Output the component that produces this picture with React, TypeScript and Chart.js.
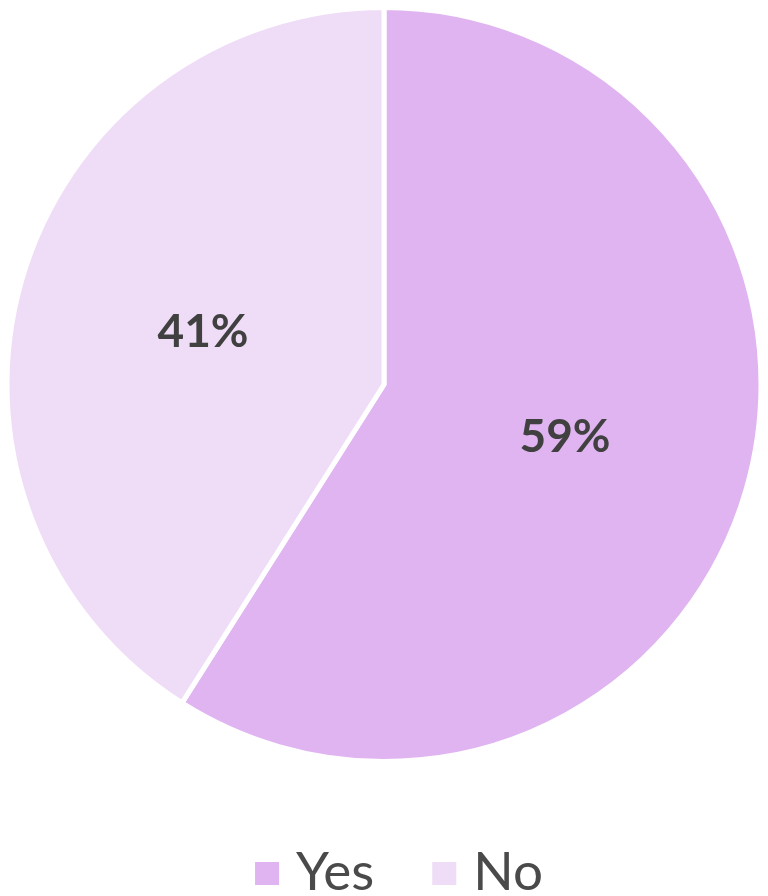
import React, { useEffect, useRef } from "react";
import { Chart, registerables } from "chart.js";

Chart.register(...registerables);

const categories: string[] = ["Yes", "No"];
const values: number[] = [59, 41];
const valueLabels: string[] = ["59%", "41%"];
const sliceColors: string[] = ["#E0B4F0", "#EFDCF6"];

const sliceLabelPlugin = {
  id: "sliceLabels",
  afterDatasetsDraw(chart: any) {
    const ctx = chart.ctx;
    const meta = chart.getDatasetMeta(0);
    ctx.save();
    ctx.font = "bold 46px Lato";
    ctx.fillStyle = "#404040";
    ctx.textAlign = "center";
    ctx.textBaseline = "middle";
    meta.data.forEach((arc: any, i: number) => {
      const p = arc.getProps(["x", "y", "startAngle", "endAngle", "outerRadius"], true);
      const mid = (p.startAngle + p.endAngle) / 2;
      const r = p.outerRadius * 0.5;
      ctx.fillText(valueLabels[i], p.x + Math.cos(mid) * r, p.y + Math.sin(mid) * r);
    });
    ctx.restore();
  },
};

const legendPlugin = {
  id: "bottomLegend",
  afterDraw(chart: any) {
    const ctx = chart.ctx;
    ctx.save();
    ctx.font = "53px Lato";
    const box = 24;
    const gap = 17;
    const itemGap = 58;
    const widths = categories.map((c) => ctx.measureText(c).width);
    const total = widths.reduce((a, w) => a + box + gap + w, 0) + itemGap * (categories.length - 1);
    let x = chart.width / 2 + 15 - total / 2;
    const baseline = 890;
    categories.forEach((c, i) => {
      ctx.fillStyle = sliceColors[i];
      ctx.fillRect(x, 862, box, 23);
      x += box + gap;
      ctx.fillStyle = "#4A4A4A";
      ctx.textAlign = "left";
      ctx.textBaseline = "alphabetic";
      ctx.fillText(c, x, baseline);
      x += widths[i] + itemGap;
    });
    ctx.restore();
  },
};

export default function App() {
  const canvasRef = useRef<HTMLCanvasElement | null>(null);

  useEffect(() => {
    const canvas = canvasRef.current;
    if (!canvas) return;
    const chart = new Chart(canvas, {
      type: "pie",
      data: {
        labels: categories,
        datasets: [
          {
            data: values,
            backgroundColor: sliceColors,
            borderColor: "#FFFFFF",
            borderWidth: 5,
          },
        ],
      },
      options: {
        responsive: false,
        animation: false,
        layout: { padding: { left: 4, right: 4, top: 5, bottom: 132 } },
        plugins: {
          legend: { display: false },
          tooltip: { enabled: false },
        },
      },
      plugins: [sliceLabelPlugin, legendPlugin],
    });
    return () => chart.destroy();
  }, []);

  return (
    <div style={{ position: "fixed", left: 0, top: 0, width: 768, height: 896, background: "#FFFFFF" }}>
      <canvas ref={canvasRef} width={768} height={896} style={{ width: 768, height: 896, display: "block" }} />
    </div>
  );
}
